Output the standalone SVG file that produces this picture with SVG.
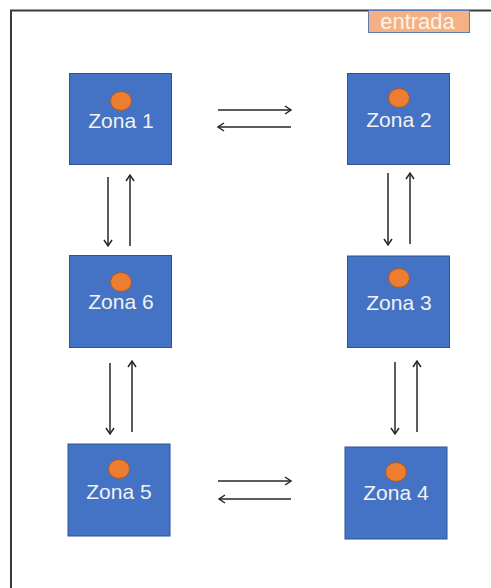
<svg xmlns="http://www.w3.org/2000/svg" width="491" height="588" viewBox="0 0 491 588">
<defs>
<style>
.zone rect{fill:#4472C4;stroke:#2F528F;stroke-width:1}
.zone ellipse{fill:#ED7D31;stroke:#AE5A21;stroke-width:1}
.zone text{fill:#F2F2F2;font-family:"Liberation Sans",Arial,sans-serif;font-size:21px;text-anchor:middle}
.conn line{stroke:#262626;stroke-width:1.5;marker-end:url(#ah)}
</style>
<marker id="ah" markerUnits="userSpaceOnUse" markerWidth="12" markerHeight="12" refX="7" refY="5" orient="auto">
<path d="M1,1 L7,5 L1,9" fill="none" stroke="#262626" stroke-width="1.5"/>
</marker>
</defs>
<rect width="491" height="588" fill="#fff"/>
<path d="M11,588 L11,10.5 L491,10.5" fill="none" stroke="#3a3a3a" stroke-width="2"/>
<g id="entrada">
<rect x="368.5" y="10.5" width="101" height="22" fill="#F4B183" stroke="#5B7BB5" stroke-width="1"/>
<text x="417.5" y="28.5" fill="#FDF3EC" font-family="'Liberation Sans',Arial,sans-serif" font-size="22" text-anchor="middle">entrada</text>
</g>
<g id="zona1" class="zone">
<rect x="69.5" y="73.5" width="102" height="91"/>
<ellipse cx="121" cy="101" rx="10.5" ry="9.5"/>
<text x="121" y="127.5">Zona 1</text>
</g>
<g id="zona2" class="zone">
<rect x="347.5" y="73.5" width="102" height="91"/>
<ellipse cx="399" cy="98" rx="10.5" ry="9.5"/>
<text x="399" y="126.5">Zona 2</text>
</g>
<g id="zona3" class="zone">
<rect x="347.5" y="256" width="102" height="91.5"/>
<ellipse cx="399" cy="278" rx="10.5" ry="9.5"/>
<text x="399" y="309.5">Zona 3</text>
</g>
<g id="zona6" class="zone">
<rect x="69.5" y="255.5" width="102" height="92"/>
<ellipse cx="121" cy="282" rx="10.5" ry="9.5"/>
<text x="121" y="308.5">Zona 6</text>
</g>
<g id="zona5" class="zone">
<rect x="68" y="444" width="102" height="92"/>
<ellipse cx="119" cy="469" rx="10.5" ry="9.5"/>
<text x="119" y="498.5">Zona 5</text>
</g>
<g id="zona4" class="zone">
<rect x="345" y="447" width="102" height="92"/>
<ellipse cx="396" cy="472" rx="10.5" ry="9.5"/>
<text x="396" y="499.5">Zona 4</text>
</g>
<g id="connectors" class="conn">
<line x1="218" y1="110" x2="291" y2="110"/>
<line x1="291" y1="127" x2="218" y2="127"/>
<line x1="108" y1="177" x2="108" y2="246"/>
<line x1="130" y1="246" x2="130" y2="175"/>
<line x1="388" y1="173" x2="388" y2="245"/>
<line x1="410" y1="244" x2="410" y2="173"/>
<line x1="110" y1="363" x2="110" y2="434"/>
<line x1="132" y1="432" x2="132" y2="361"/>
<line x1="395" y1="362" x2="395" y2="434"/>
<line x1="417" y1="432" x2="417" y2="361"/>
<line x1="218" y1="481" x2="291" y2="481"/>
<line x1="291" y1="499" x2="219" y2="499"/>
</g>
</svg>
